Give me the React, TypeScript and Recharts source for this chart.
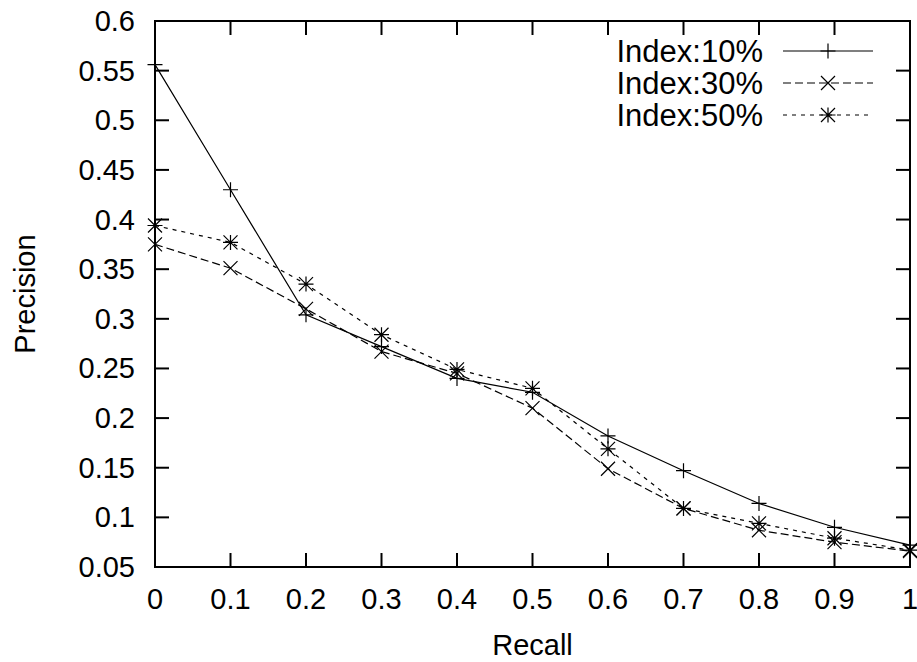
import { LineChart, Line, XAxis, YAxis, ReferenceArea, Legend } from "recharts";

const recall = [0, 0.1, 0.2, 0.3, 0.4, 0.5, 0.6, 0.7, 0.8, 0.9, 1];
const index10 = [0.556, 0.43, 0.304, 0.272, 0.24, 0.226, 0.182, 0.147, 0.114, 0.09, 0.072];
const index30 = [0.375, 0.351, 0.31, 0.267, 0.245, 0.21, 0.149, 0.109, 0.087, 0.075, 0.066];
const index50 = [0.394, 0.377, 0.335, 0.284, 0.249, 0.23, 0.169, 0.109, 0.094, 0.079, 0.067];

const xTicks = [0, 0.1, 0.2, 0.3, 0.4, 0.5, 0.6, 0.7, 0.8, 0.9, 1];
const yTicks = [0.05, 0.1, 0.15, 0.2, 0.25, 0.3, 0.35, 0.4, 0.45, 0.5, 0.55, 0.6];

const series = [
  { key: "i10", name: "Index:10%", values: index10, dash: undefined, marker: "plus" },
  { key: "i30", name: "Index:30%", values: index30, dash: "8 4", marker: "cross" },
  { key: "i50", name: "Index:50%", values: index50, dash: "4 5", marker: "star" },
];

const data = recall.map((r, i) => ({
  recall: r,
  i10: index10[i],
  i30: index30[i],
  i50: index50[i],
}));

const FONT = "'Liberation Sans', Arial, Helvetica, sans-serif";
const FS = 29;
const PLOT_W = 755;
const PLOT_H = 546;
const TICK = 14;

function Marker({ cx, cy, kind }: { cx: number; cy: number; kind: string }) {
  const s = 7.5;
  const d = 7;
  const plus = `M${cx - s},${cy}H${cx + s}M${cx},${cy - s}V${cy + s}`;
  const cross = `M${cx - d},${cy - d}L${cx + d},${cy + d}M${cx - d},${cy + d}L${cx + d},${cy - d}`;
  let path = plus;
  if (kind === "cross") path = cross;
  if (kind === "star") path = plus + cross;
  return <path d={path} stroke="#000" strokeWidth={1.2} fill="none" />;
}

function XTick({ x, y, payload }: any) {
  return (
    <g>
      <line x1={x} x2={x} y1={y} y2={y - TICK} stroke="#000" strokeWidth={2} />
      <line x1={x} x2={x} y1={y - PLOT_H} y2={y - PLOT_H + TICK} stroke="#000" strokeWidth={2} />
      <text x={x} y={y + 42} textAnchor="middle" fontFamily={FONT} fontSize={FS} fill="#000">
        {payload.value}
      </text>
    </g>
  );
}

function YTick({ x, y, payload }: any) {
  return (
    <g>
      <line x1={x} x2={x + TICK} y1={y} y2={y} stroke="#000" strokeWidth={2} />
      <line x1={x + PLOT_W} x2={x + PLOT_W - TICK} y1={y} y2={y} stroke="#000" strokeWidth={2} />
      <text x={x - 20} y={y + 10} textAnchor="end" fontFamily={FONT} fontSize={FS} fill="#000">
        {payload.value}
      </text>
    </g>
  );
}

function renderLegend() {
  return (
    <svg width={300} height={100}>
      {series.map((s, i) => {
        const y = 16 + i * 32;
        return (
          <g key={s.key}>
            <text x={163} y={y + 11} textAnchor="end" fontFamily={FONT} fontSize={31} fill="#000">
              {s.name}
            </text>
            <line x1={183} x2={273} y1={y} y2={y} stroke="#000" strokeWidth={1.2} strokeDasharray={s.dash} />
            <Marker cx={228} cy={y} kind={s.marker} />
          </g>
        );
      })}
    </svg>
  );
}

export default function App() {
  return (
    <div style={{ position: "absolute", left: 0, top: 0, background: "#fff" }}>
      <LineChart width={917} height={662} data={data} margin={{ top: 21, right: 7, left: 0, bottom: 0 }}>
        <XAxis
          dataKey="recall"
          type="number"
          domain={[0, 1]}
          ticks={xTicks}
          height={95}
          tickSize={0}
          tickMargin={0}
          axisLine={false}
          tickLine={false}
          tick={<XTick />}
          interval={0}
          label={{
            content: (p: any) => (
              <text
                x={p.viewBox.x + p.viewBox.width / 2}
                y={p.viewBox.y + 88}
                textAnchor="middle"
                fontFamily={FONT}
                fontSize={FS}
                fill="#000"
              >
                Recall
              </text>
            ),
          }}
        />
        <YAxis
          type="number"
          domain={[0.05, 0.6]}
          ticks={yTicks}
          width={155}
          tickSize={0}
          tickMargin={0}
          axisLine={false}
          tickLine={false}
          tick={<YTick />}
          interval={0}
          allowDataOverflow
          label={{
            content: (p: any) => {
              const cx = p.viewBox.x + 25;
              const cy = p.viewBox.y + p.viewBox.height / 2;
              return (
                <text
                  x={cx}
                  y={cy}
                  transform={`rotate(-90 ${cx} ${cy})`}
                  textAnchor="middle"
                  dominantBaseline="central"
                  fontFamily={FONT}
                  fontSize={FS}
                  fill="#000"
                >
                  Precision
                </text>
              );
            },
          }}
        />
        <ReferenceArea x1={0} x2={1} y1={0.05} y2={0.6} fill="none" stroke="#000" strokeWidth={2} />
        {series.map((s) => (
          <Line
            key={s.key}
            dataKey={s.key}
            name={s.name}
            stroke="#000"
            strokeWidth={1.2}
            strokeDasharray={s.dash}
            isAnimationActive={false}
            dot={(p: any) => <Marker key={`${s.key}-${p.index}`} cx={p.cx} cy={p.cy} kind={s.marker} />}
            activeDot={false}
          />
        ))}
        <Legend
          layout="vertical"
          align="center"
          verticalAlign="middle"
          content={renderLegend}
          wrapperStyle={{ top: 35, left: 600, width: 300 }}
        />
      </LineChart>
    </div>
  );
}
